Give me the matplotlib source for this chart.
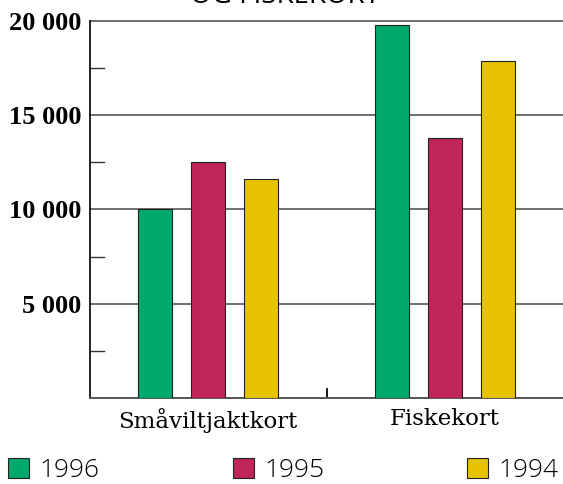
import numpy as np
import matplotlib.pyplot as plt

categories = ["Småviltjaktkort", "Fiskekort"]
years = ["1996", "1995", "1994"]
values = {
    "1996": [10000, 19800],
    "1995": [12500, 13800],
    "1994": [11600, 17900],
}
colors = ["#00a86b", "#c0255a", "#e6c200"]
yticks = [5000, 10000, 15000, 20000]
ytick_labels = ["5 000", "10 000", "15 000", "20 000"]

fig = plt.figure(figsize=(5.63, 4.84), dpi=100)
ax = fig.add_axes([90 / 563, 86 / 484, 473 / 563, 377 / 484])

x = np.arange(len(categories))
width = 0.142
offset = 0.224
for i, (yr, c) in enumerate(zip(years, colors)):
    ax.bar(x + (i - 1) * offset, values[yr], width, color=c,
           edgecolor="#222222", linewidth=0.8, zorder=3)

ax.set_xlim(-0.5, 1.5)
ax.set_ylim(0, 20000)

# grid lines at the major ticks, short marks at the half steps
for v in yticks:
    ax.axhline(v, color="#555555", linewidth=1.2, zorder=1, clip_on=False)
for v in [2500, 7500, 12500, 17500]:
    ax.plot([0, 14 / 473], [v, v], transform=ax.get_yaxis_transform(),
            color="#333333", linewidth=1.0)
ax.plot([0.5, 0.5], [0, 9 / 377], transform=ax.get_xaxis_transform(),
        color="black", linewidth=1.3)

for s in ["top", "right"]:
    ax.spines[s].set_visible(False)
ax.spines["left"].set_color("black")
ax.spines["left"].set_linewidth(1.2)
ax.spines["bottom"].set_color("#555555")
ax.spines["bottom"].set_linewidth(1.4)

ax.set_yticks(yticks)
ax.set_yticklabels(ytick_labels, fontsize=19, fontweight="bold",
                   family="Liberation Serif")
ax.tick_params(axis="y", length=0, pad=6)
ax.set_xticks(x)
ax.set_xticklabels(categories, fontsize=16.5, family="DejaVu Serif")
ax.tick_params(axis="x", length=0, pad=7)

# title, cut off at the top edge as in the original
fig.text(285 / 563, 1 - 3 / 484, "OG FISKEKORT", ha="center", va="baseline",
         fontsize=20, family="Open Sans")

# legend
leg_x = [8, 233, 467]
for lx, yr, c in zip(leg_x, years, colors):
    fig.patches.append(plt.Rectangle((lx / 563, 6 / 484), 21 / 563, 20 / 484,
                                     transform=fig.transFigure, facecolor=c,
                                     edgecolor="#222222", linewidth=0.8))
    fig.text((lx + 31) / 563, 7 / 484, yr, fontsize=19, family="Open Sans",
             fontweight="light", ha="left", va="baseline")

fig.savefig("out.png", dpi=100)
